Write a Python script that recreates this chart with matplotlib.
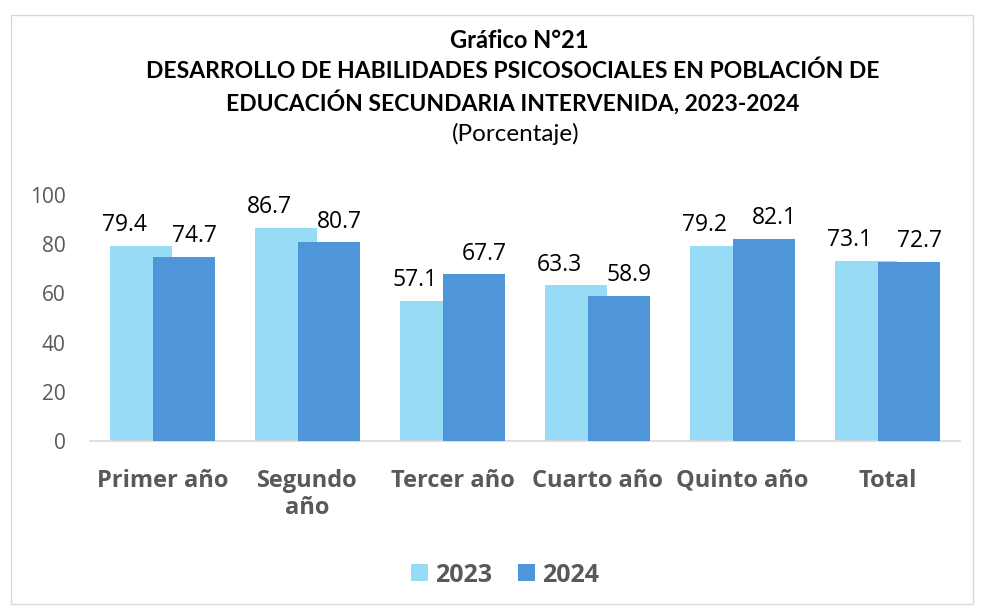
import matplotlib.pyplot as plt
import numpy as np
from matplotlib.patches import Rectangle

plt.rcParams['font.family'] = ['Open Sans', 'DejaVu Sans']

categories = ['Primer año', 'Segundo\naño', 'Tercer año', 'Cuarto año', 'Quinto año', 'Total']
years = ['2023', '2024']
v2023 = [79.4, 86.7, 57.1, 63.3, 79.2, 73.1]
v2024 = [74.7, 80.7, 67.7, 58.9, 82.1, 72.7]
yticks = [0, 20, 40, 60, 80, 100]

c2023 = '#97DBF7'
c2024 = '#4F95D9'
gray = '#595959'
title_font = ['Lato', 'DejaVu Sans']

fig = plt.figure(figsize=(9.81, 6.08), dpi=100)
fig.patches.append(Rectangle((0.011, 0.006), 0.981, 0.97, transform=fig.transFigure,
                             fill=False, edgecolor='#D9D9D9', linewidth=1))

ax = fig.add_axes([90 / 981, 1 - 441 / 608, 870 / 981, 246 / 608])
x = np.arange(len(categories))
w = 0.43
off = 0.15
b1 = ax.bar(x - off, v2023, w, color=c2023, label=years[0], zorder=2)
b2 = ax.bar(x + off, v2024, w, color=c2024, label=years[1], zorder=3)

# labels sit a bit outward of each bar, like the original Excel layout
for bars, vals, dx in ((b1, v2023, -0.11), (b2, v2024, 0.07)):
    for r, v in zip(bars, vals):
        ax.text(r.get_x() + r.get_width() / 2 + dx, v + 6, f'{v:.1f}', ha='center',
                va='baseline', fontsize=16.5, color='black', clip_on=False)

ax.set_xlim(-0.5, len(categories) - 0.5)
ax.set_ylim(0, 100)
ax.set_yticks(yticks)
ax.set_yticklabels([str(t) for t in yticks], fontsize=15, color=gray)
ax.set_xticks(x)
ax.set_xticklabels(categories, fontsize=17, fontweight='bold', color=gray, va='top',
                   linespacing=1.2)
ax.tick_params(axis='both', length=0)
ax.tick_params(axis='x', pad=20)
ax.tick_params(axis='y', pad=17.5)
for s in ['top', 'right', 'left']:
    ax.spines[s].set_visible(False)
ax.spines['bottom'].set_color('#D9D9D9')
ax.spines['bottom'].set_linewidth(1.2)

tx = 513 / 981
fig.text(519 / 981, 1 - 40 / 608, 'Gráfico N°21', ha='center', va='center', fontsize=17,
         fontweight='bold', family=title_font)
fig.text(tx, 1 - 71 / 608, 'DESARROLLO DE HABILIDADES PSICOSOCIALES EN POBLACIÓN DE',
         ha='center', va='center', fontsize=16.5, fontweight='bold', family=title_font)
fig.text(tx, 1 - 102 / 608, 'EDUCACIÓN SECUNDARIA INTERVENIDA, 2023-2024',
         ha='center', va='center', fontsize=16.5, fontweight='bold', family=title_font)
fig.text(516 / 981, 1 - 134 / 608, '(Porcentaje)', ha='center', va='center', fontsize=17.5,
         family=title_font)

leg = fig.legend(handles=[b1, b2], loc='center', bbox_to_anchor=(505 / 981, 1 - 575 / 608), ncol=2,
                 frameon=False, prop={'size': 18, 'weight': 'bold'}, handlelength=0.68,
                 handleheight=0.68, handletextpad=0.3, columnspacing=1.0)
for t in leg.get_texts():
    t.set_color(gray)

fig.savefig('out.png', dpi=100)
